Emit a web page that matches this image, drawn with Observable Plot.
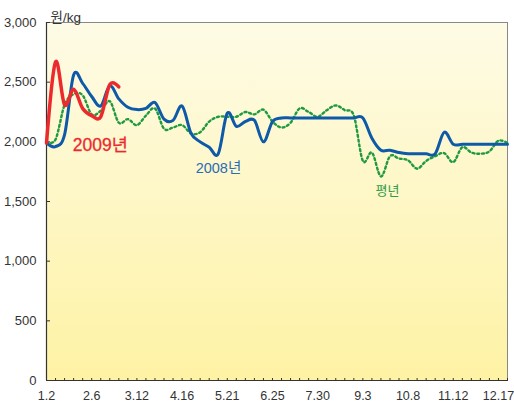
<!DOCTYPE html>
<html><head><meta charset="utf-8">
<script src="https://cdn.jsdelivr.net/npm/d3@7"></script>
<script src="https://cdn.jsdelivr.net/npm/@observablehq/plot@0.6"></script>
<style>body{margin:0;background:#fff}</style>
</head><body><div id="chart"></div>
<script>
// weekly index 0..51 (1.2 .. 12.24)
const weeks = d3.range(52);
const xTickWeeks = [0,5,10,15,20,25,30,35,40,45,50];
const xTickLabels = ["1.2","2.6","3.12","4.16","5.21","6.25","7.30","9.3","10.8","11.12","12.17"];
const yTicks = [0,500,1000,1500,2000,2500,3000];

// 평년 (average year)
const avgValues = [2000,2020,2310,2400,2390,2230,2260,2340,2160,2190,2140,2220,2280,2110,2120,2140,2070,2080,2170,2210,
  2210,2210,2250,2230,2270,2170,2120,2160,2280,2250,2210,2265,2305,2265,2220,1840,1910,1710,1880,1860,
  1845,1775,1840,1880,1905,1830,1955,1910,1900,1920,2010,1990];
// 2008년
const y2008Values = [1990,1960,2060,2560,2490,2380,2300,2470,2360,2290,2270,2280,2330,2190,2180,2300,2070,2000,1955,1900,
  2240,2130,2170,2180,2000,2170,2200,2200,2200,2200,2200,2200,2200,2200,2200,2200,2030,1930,1930,1910,
  1900,1900,1900,1900,2080,1980,1980,1980,1980,1980,1980,1980];
// 2009년
const y2009Values = [1990,2670,2310,2440,2280,2220,2210,2480,2460];

const labelNames = ["2009년","2008년","평년"];
const labelWeeks = [2.9, 16.5, 36.4];
const labelValues = [1969, 1777, 1592];

const avgData = avgValues.map((v,i)=>({w:i,v}));
const d2008 = y2008Values.map((v,i)=>({w:i,v}));
const d2009 = y2009Values.map((v,i)=>({w:i,v}));

const font = "'Liberation Sans', 'Noto Sans CJK KR', sans-serif";

const chart = Plot.plot({
  width: 514, height: 410,
  marginTop: 22, marginBottom: 30, marginLeft: 46, marginRight: 7,
  style: {fontFamily: font, fontSize: "13px", color: "#333", background: "white"},
  x: {domain: [0, 51]},
  y: {domain: [0, 3000]},
  marks: [
    Plot.frame({fill: "url(#bg)", stroke: "#888"}),
    Plot.axisY(yTicks, {anchor: "left", tickSize: 0, tickPadding: 10, tickFormat: d3.format(","), label: null, fontSize: 13, fill: "#333"}),
    Plot.axisY(yTicks, {anchor: "right", frameAnchor: "left", tickSize: 3, fill: "none", stroke: "#333", label: null}),
    Plot.axisX(xTickWeeks, {anchor: "bottom", tickSize: 0, tickPadding: 11, tickFormat: d => xTickLabels[xTickWeeks.indexOf(d)], label: null, fontSize: 12.5, fontFamily: "'Liberation Sans Narrow', 'Liberation Sans', sans-serif", fill: "#333"}),
    Plot.axisX(weeks, {anchor: "top", frameAnchor: "bottom", tickSize: 3, fill: "none", stroke: "#333", label: null}),
    Plot.ruleX([0], {stroke: "#333", strokeWidth: 1.2}),
    Plot.ruleY([0], {stroke: "#333", strokeWidth: 1.2}),
    Plot.line(avgData, {x: "w", y: "v", stroke: "#1f9a40", strokeWidth: 2.4, strokeDasharray: "2,2.8", curve: "cardinal"}),
    Plot.line(d2008, {x: "w", y: "v", stroke: "#0e5aa8", strokeWidth: 3, curve: "cardinal"}),
    Plot.line(d2009, {x: "w", y: "v", stroke: "#ec2a2e", strokeWidth: 3.5, curve: "cardinal"}),
    Plot.text([0], {x: labelWeeks[0], y: labelValues[0], text: () => labelNames[0], fill: "#ec2a2e", fontSize: 17.5, textAnchor: "start", lineAnchor: "middle", stroke: "#ec2a2e", strokeWidth: 0.3}),
    Plot.text([0], {x: labelWeeks[1], y: labelValues[1], text: () => labelNames[1], fill: "#2a6db5", fontSize: 14.5, textAnchor: "start", lineAnchor: "middle"}),
    Plot.text([0], {x: labelWeeks[2], y: labelValues[2], text: () => labelNames[2], fill: "#2e9c4b", fontSize: 13, textAnchor: "start", lineAnchor: "middle"}),
    Plot.text(["원/kg"], {frameAnchor: "top-left", dx: 4, dy: -10, textAnchor: "start", fontSize: 13.5, fill: "#333"})
  ]
});

const svg = d3.select(chart);
const defs = svg.insert("defs", ":first-child");
const grad = defs.append("linearGradient").attr("id", "bg").attr("x1", 0).attr("y1", 0).attr("x2", 0).attr("y2", 1);
grad.append("stop").attr("offset", "0%").attr("stop-color", "#fefbe6");
grad.append("stop").attr("offset", "100%").attr("stop-color", "#fef2a4");
document.getElementById("chart").appendChild(chart);
</script>
</body></html>
